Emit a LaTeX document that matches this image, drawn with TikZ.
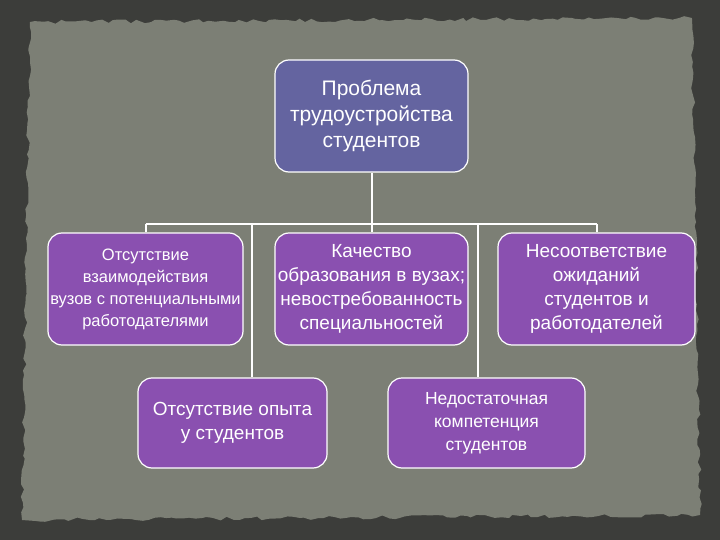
\documentclass[tikz,border=0pt]{standalone}
\usepackage{fontspec}
\setmainfont{Liberation Sans}
\usetikzlibrary{decorations.pathmorphing}
\definecolor{bgdark}{HTML}{3C3D3A}
\definecolor{bgin}{HTML}{7C7F75}
\definecolor{topc}{HTML}{6464A0}
\definecolor{boxc}{HTML}{8A50B0}
\begin{document}
\begin{tikzpicture}[x=1pt,y=-1pt,
  box/.style={draw=white,line width=1.2pt,rounded corners=14pt,text=white,align=center,inner sep=1pt,font=\fontsize{19}{24}\selectfont},
  link/.style={draw=white,line width=2pt}]
\fill[bgdark] (0,0) rectangle (720,540);
\fill[bgin,decorate,decoration={random steps,segment length=6pt,amplitude=2pt}] (30,22) -- (692,18) -- (700,515) -- (22,520) -- cycle;
\useasboundingbox (0,0) rectangle (720,540);
\node[box,fill=topc,minimum width=193pt,minimum height=112pt,font=\fontsize{21}{26}\selectfont] (top) at (371.5,116) {Проблема\\трудоустройства\\студентов};
\node[box,fill=boxc,minimum width=195pt,minimum height=112pt,font=\fontsize{16.5}{22}\selectfont] (l) at (145.5,289) {Отсутствие\\взаимодействия\\вузов с потенциальными\\работодателями};
\node[box,fill=boxc,minimum width=193pt,minimum height=112pt] (m) at (371.5,289) {Качество\\образования в вузах;\\невостребованность\\специальностей};
\node[box,fill=boxc,minimum width=197pt,minimum height=112pt] (r) at (596.5,289) {Несоответствие\\ожиданий\\студентов и\\работодателей};
\node[box,fill=boxc,minimum width=189pt,minimum height=90pt] (bl) at (232.5,423) {Отсутствие опыта\\у студентов};
\node[box,fill=boxc,minimum width=197pt,minimum height=90pt,font=\fontsize{17.5}{23}\selectfont] (br) at (486.5,423) {Недостаточная\\компетенция\\студентов};
\coordinate (h) at (371.5,224);
\coordinate (hb) at (252,224);
\coordinate (hc) at (478,224);
\draw[link] (top.south) -- (m.north);
\draw[link] (l.north |- h) -- (r.north |- h);
\draw[link] (l.north |- h) -- (l.north);
\draw[link] (r.north |- h) -- (r.north);
\draw[link] (hb) -- (hb |- bl.north);
\draw[link] (hc) -- (hc |- br.north);
\end{tikzpicture}
\end{document}
